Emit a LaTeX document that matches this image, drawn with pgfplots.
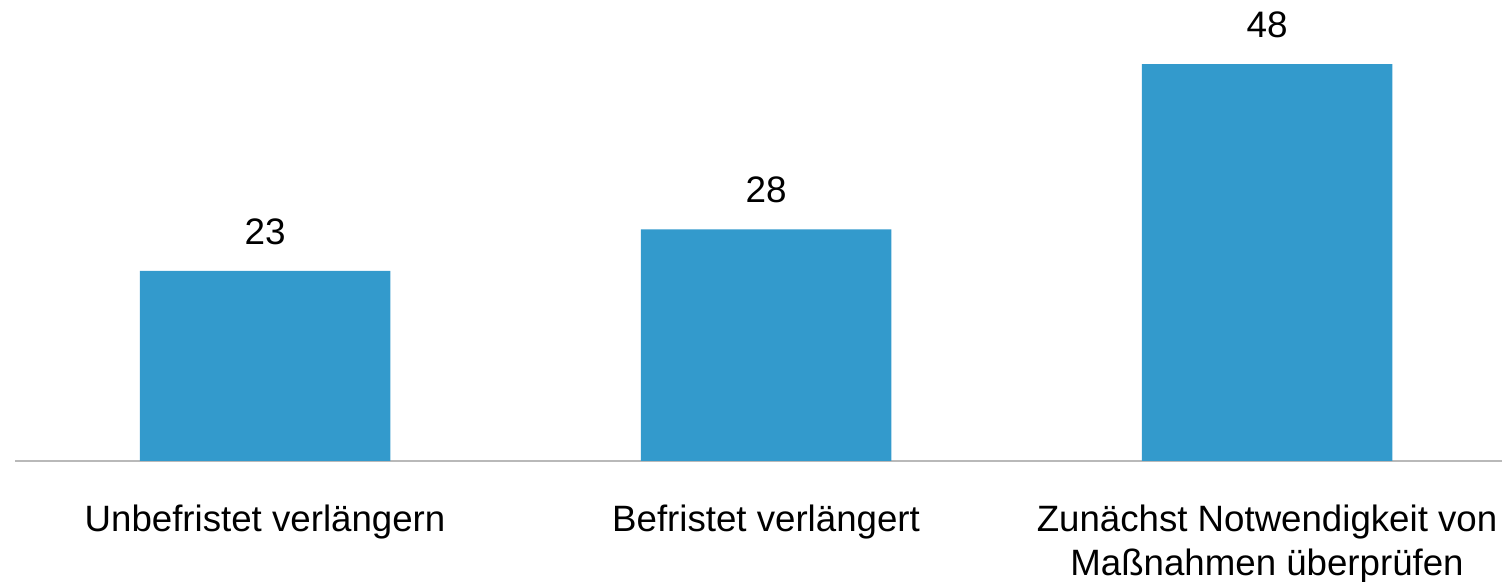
\documentclass[border=0pt]{standalone}
\usepackage{pgfplots}
\pgfplotsset{compat=1.18}
\usepackage{fontspec}
\setmainfont{Liberation Sans}
\definecolor{barblue}{RGB}{51,154,204}
\definecolor{axisgray}{RGB}{185,185,185}
\begin{document}
\begin{tikzpicture}[x=1bp,y=1bp]
\path[use as bounding box] (0,0) rectangle (1502,582);
\begin{axis}[
  at={(15bp,121bp)}, anchor=south west,
  scale only axis,
  width=1487bp, height=454.85bp,
  xmin=-0.499, xmax=2.469,
  ymin=0, ymax=55,
  axis x line=bottom, axis y line=none,
  x axis line style={-, draw=axisgray, line width=2.2bp},
  xtick=data,
  xticklabels={Unbefristet verlängern, Befristet verlängert, {Zunächst Notwendigkeit von\\Maßnahmen überprüfen}},
  major tick length=0pt,
  xtick style={draw=none},
  ytick=\empty,
  /pgf/number format/assume math mode=true,
  xticklabel style={font=\fontsize{36.8}{43.5}\selectfont, align=center, inner sep=0pt, yshift=-44bp},
  nodes near coords,
  every node near coord/.append style={font=\fontsize{37}{43}\selectfont, inner sep=0pt, yshift=26bp, black},
  clip=false,
]
\addplot[ybar, bar width=0.5, fill=barblue, draw=none] coordinates {(0,23) (1,28) (2,48)};
\end{axis}
\end{tikzpicture}
\end{document}
